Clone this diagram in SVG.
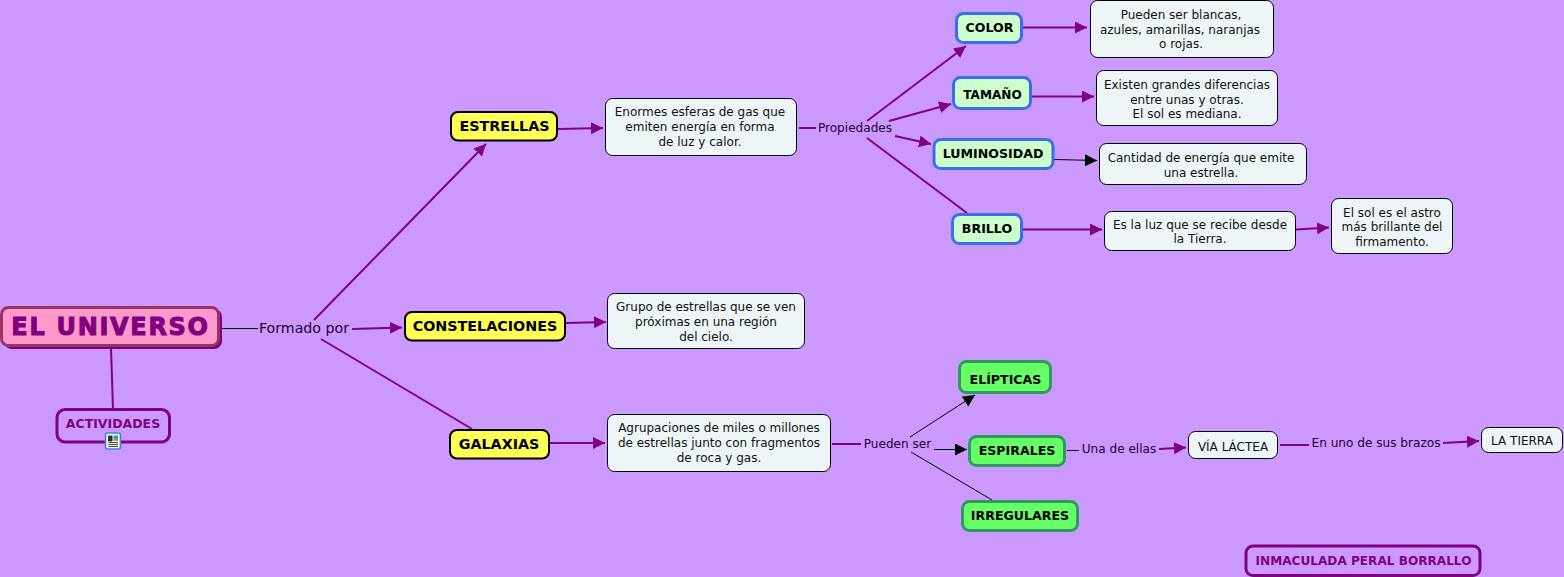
<svg xmlns="http://www.w3.org/2000/svg" width="1564" height="577" viewBox="0 0 1564 577">
<style>
text{font-family:"DejaVu Sans",Verdana,sans-serif;text-anchor:middle;fill:#111}
.d{font-size:12px}
.l{font-size:12.100px;fill:#220033}
.b{font-weight:bold;font-size:12.600px;fill:#000}
.s{font-weight:bold;font-size:14.300px;fill:#000}
.desc{fill:#eef5f7;stroke:#000;stroke-width:1}
.star{fill:#ffff55;stroke:#000;stroke-width:2}
.prop{fill:#ccffcc;stroke:#3b6fe8;stroke-width:3}
.gal{fill:#66ff66;stroke:#2e9960;stroke-width:3}
.pl{fill:none;stroke:#800080;stroke-width:2}
.bl{fill:none;stroke:#000;stroke-width:1}
.ah{fill:#800080}
.ak{fill:#000}
</style>
<defs>
<marker id="mp" markerUnits="userSpaceOnUse" markerWidth="13" markerHeight="13" refX="12" refY="6" orient="auto"><path class="ah" d="M0 0L12 6L0 12Z"/></marker>
<marker id="mk" markerUnits="userSpaceOnUse" markerWidth="13" markerHeight="13" refX="12" refY="6" orient="auto"><path class="ak" d="M0 0L12 6L0 12Z"/></marker>
</defs>
<rect width="1564" height="577" fill="#cc99ff"/>
<g id="connectors">
<path class="bl" d="M222 328.500H258"/>
<path class="pl" d="M314 320L486 144" marker-end="url(#mp)"/>
<path class="pl" d="M352 329L402 327.500" marker-end="url(#mp)"/>
<path class="pl" d="M321 339L472 429"/>
<path class="pl" d="M111 348L113 409"/>
<path class="pl" d="M558 129L603 128" marker-end="url(#mp)"/>
<path class="pl" d="M566 323L606 322" marker-end="url(#mp)"/>
<path class="pl" d="M550 443H605" marker-end="url(#mp)"/>
<path class="pl" d="M799 128H816"/>
<path class="pl" d="M867 121L966 46" marker-end="url(#mp)"/>
<path class="pl" d="M889 121L951 104" marker-end="url(#mp)"/>
<path class="pl" d="M895 136L931 144" marker-end="url(#mp)"/>
<path class="pl" d="M867 138L967 213"/>
<path class="pl" d="M1023 27.500H1087" marker-end="url(#mp)"/>
<path class="pl" d="M1032 96.500H1094" marker-end="url(#mp)"/>
<path class="bl" d="M1054 159.500L1097 160.500" marker-end="url(#mk)"/>
<path class="pl" d="M1023 229.500H1102" marker-end="url(#mp)"/>
<path class="pl" d="M1296 229.500L1329 227.500" marker-end="url(#mp)"/>
<path class="pl" d="M832 444H861"/>
<path class="bl" d="M910 437L975 395" marker-end="url(#mk)"/>
<path class="bl" d="M934 449.500H967" marker-end="url(#mk)"/>
<path class="bl" d="M911 452L992 500"/>
<path class="bl" d="M1067 450.500H1079"/>
<path class="pl" d="M1159 449L1186 447.500" marker-end="url(#mp)"/>
<path class="pl" d="M1280 445H1309"/>
<path class="pl" d="M1443 443L1479 441" marker-end="url(#mp)"/>
</g>
<g id="universo">
<rect x="4" y="309" width="218" height="40" rx="8" fill="#800080"/>
<rect x="1.500" y="307.500" width="217" height="38" rx="7" fill="#ff99cc" stroke="#993366" stroke-width="3"/>
<text x="110.500" y="335" style="font-size:24px;letter-spacing:1.700px;font-weight:bold;fill:#800080;stroke:#800080;stroke-width:1">EL UNIVERSO</text>
</g>
<text x="304" y="333" style="font-size:14.200px;fill:#220033">Formado por</text>
<g id="actividades">
<rect x="57" y="409.500" width="112.500" height="32.500" rx="8" fill="none" stroke="#800080" stroke-width="3"/>
<text x="113" y="428" style="font-size:12.500px;font-weight:bold;fill:#800080">ACTIVIDADES</text>
<rect x="105.500" y="433" width="15" height="16" rx="2" fill="#eef5d0" stroke="#3b88dd" stroke-width="1.500"/>
<path d="M108.500 436H112V441H108.500ZM108.500 442.500H118M108.500 444.500H118M108.500 446.500H118M113.500 440H118" fill="#333" stroke="#222" stroke-width=".8"/>
<rect x="113.500" y="435.500" width="4.500" height="4" fill="#4a90c8"/>
</g>
<g id="estrellas"><rect class="star" x="451" y="112" width="106" height="28.500" rx="7"/><text class="s" x="504.500" y="131">ESTRELLAS</text></g>
<g id="constelaciones"><rect class="star" x="405" y="312" width="160" height="28.500" rx="7"/><text class="s" x="485" y="331">CONSTELACIONES</text></g>
<g id="galaxias"><rect class="star" x="450" y="430" width="99" height="28.500" rx="7"/><text class="s" x="499" y="449">GALAXIAS</text></g>
<g id="d-estrellas"><rect class="desc" x="605.500" y="98.500" width="191" height="57" rx="7"/><text class="d" x="700" y="116">Enormes esferas de gas que</text><text class="d" x="700" y="130.500">emiten energía en forma</text><text class="d" x="700" y="145.500">de luz y calor.</text></g>
<g id="d-constelaciones"><rect class="desc" x="607.500" y="293.500" width="197" height="55" rx="7"/><text class="d" x="706" y="311">Grupo de estrellas que se ven</text><text class="d" x="706" y="326">próximas en una región</text><text class="d" x="706" y="341">del cielo.</text></g>
<g id="d-galaxias"><rect class="desc" x="607.500" y="414.500" width="223" height="57" rx="7"/><text class="d" x="719" y="432">Agrupaciones de miles o millones</text><text class="d" x="719" y="447">de estrellas junto con fragmentos</text><text class="d" x="719" y="462">de roca y gas.</text></g>
<text class="l" x="855" y="132">Propiedades</text>
<g id="color"><rect class="prop" x="956.500" y="13.500" width="65" height="29" rx="7"/><text class="b" x="989.500" y="32">COLOR</text></g>
<g id="tamano"><rect class="prop" x="953.500" y="77.500" width="77" height="31" rx="7"/><text class="b" x="992.500" y="99" style="font-size:12.100px">TAMAÑO</text></g>
<g id="luminosidad"><rect class="prop" x="934" y="139.500" width="119" height="29" rx="7"/><text class="b" x="993" y="158">LUMINOSIDAD</text></g>
<g id="brillo"><rect class="prop" x="952.500" y="214.500" width="69" height="29" rx="7"/><text class="b" x="987" y="233">BRILLO</text></g>
<g id="d-color"><rect class="desc" x="1090.500" y="0.500" width="183" height="57" rx="7"/><text class="d" x="1181" y="19">Pueden ser blancas,</text><text class="d" x="1180" y="33.500">azules, amarillas, naranjas</text><text class="d" x="1181" y="48">o rojas.</text></g>
<g id="d-tamano"><rect class="desc" x="1096.500" y="70.500" width="181" height="55" rx="7"/><text class="d" x="1187" y="88.500">Existen grandes diferencias</text><text class="d" x="1187" y="103.500">entre unas y otras.</text><text class="d" x="1187" y="118">El sol es mediana.</text></g>
<g id="d-luminosidad"><rect class="desc" x="1099.500" y="143.500" width="207" height="41" rx="7"/><text class="d" x="1201" y="162">Cantidad de energía que emite</text><text class="d" x="1201" y="177">una estrella.</text></g>
<g id="d-brillo"><rect class="desc" x="1104.500" y="211.500" width="191" height="39" rx="7"/><text class="d" x="1200" y="228.500">Es la luz que se recibe desde</text><text class="d" x="1200" y="243">la Tierra.</text></g>
<g id="d-sol"><rect class="desc" x="1331.500" y="198.500" width="121" height="55" rx="7"/><text class="d" x="1392" y="216.500">El sol es el astro</text><text class="d" x="1392" y="231">más brillante del</text><text class="d" x="1392" y="246">firmamento.</text></g>
<text class="l" x="897.500" y="448">Pueden ser</text>
<g id="elipticas"><rect class="gal" x="959.500" y="361.500" width="91" height="31" rx="7"/><text class="b" x="1005.500" y="383.500">ELÍPTICAS</text></g>
<g id="espirales"><rect class="gal" x="969.500" y="436.500" width="95" height="29" rx="7"/><text class="b" x="1017" y="455">ESPIRALES</text></g>
<g id="irregulares"><rect class="gal" x="962.500" y="501.500" width="115" height="29" rx="7"/><text class="b" x="1020" y="520">IRREGULARES</text></g>
<text class="l" x="1119" y="453">Una de ellas</text>
<g id="via-lactea"><rect class="desc" x="1188.500" y="431.500" width="89" height="27" rx="7"/><text class="d" x="1233" y="451">VÍA LÁCTEA</text></g>
<text class="l" x="1376" y="447">En uno de sus brazos</text>
<g id="la-tierra"><rect class="desc" x="1481.500" y="427.500" width="81" height="25" rx="7"/><text class="d" x="1522" y="445">LA TIERRA</text></g>
<g id="autor"><rect x="1246" y="546" width="234" height="29.500" rx="7" fill="none" stroke="#800080" stroke-width="3"/><text x="1363.500" y="565" style="font-size:12.100px;font-weight:bold;fill:#800080">INMACULADA PERAL BORRALLO</text></g>
</svg>
